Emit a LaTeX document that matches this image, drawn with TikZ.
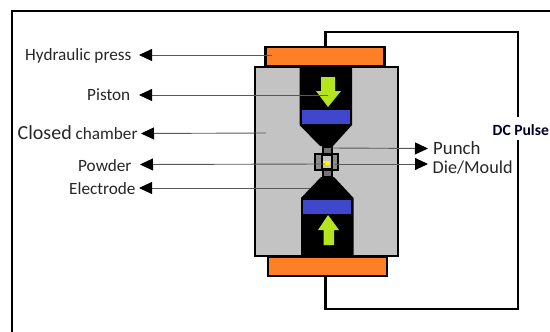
\documentclass[tikz,border=0pt]{standalone}
\usepackage{fontspec}
\setmainfont{Carlito}
\usetikzlibrary{arrows.meta}
\definecolor{orng}{HTML}{FF7F27}
\definecolor{chamb}{HTML}{C3C3C3}
\definecolor{blu}{HTML}{3F48CC}
\definecolor{lime}{HTML}{B5E61D}
\definecolor{txt}{HTML}{262626}
\tikzset{
  x=1pt,y=-1pt,
  part/.style={draw=black,line width=2.4pt,line join=miter},
  frameline/.style={line width=2.4pt,black},
  wire/.style={line width=2.6pt,black},
  leader/.style={draw=black!65,line width=0.9pt,-{Triangle[black,length=13pt,width=12pt]}},
  lab/.style={inner sep=0pt,text=txt,font=\fontsize{17.2}{19}\selectfont,anchor=base west},
  bluebar/.style={fill=blu,draw=none},
  limearrow/.style={fill=lime,draw=none},
}
\begin{document}
\begin{tikzpicture}
\useasboundingbox (0,0) rectangle (550,332);
\begin{scope}
\clip (0,0) rectangle (550,332);
\draw[frameline] (550,11) -- (12,11) -- (12,332);
% wire
\coordinate (wTopA) at (325.5,47);
\coordinate (wTopB) at (325.5,32);
\coordinate (wTopC) at (518,32);
\coordinate (wTopD) at (518,117);
\coordinate (wBotA) at (518,140);
\coordinate (wBotB) at (518,309);
\coordinate (wBotC) at (325.5,309);
\coordinate (wBotD) at (325.5,277);
\draw[wire] (wTopA) -- (wTopB) -- (wTopC) -- (wTopD);
\draw[wire] (wBotA) -- (wBotB) -- (wBotC) -- (wBotD);
% press plates and chamber
\node[part,fill=orng,minimum width=119pt,minimum height=19.5pt,inner sep=0pt] (press) at (325,56.5) {};
\node[part,fill=orng,minimum width=119pt,minimum height=19.5pt,inner sep=0pt] (pressb) at (327.5,266.5) {};
\node[part,fill=chamb,minimum width=143pt,minimum height=189pt,inner sep=0pt] (chamber) at (326.5,161.5) {};
% pistons
\fill[black] (299.5,67) -- (352,67) -- (352,125) -- (333,146) -- (320,146) -- (299.5,125) -- cycle;
\fill[black] (301,256) -- (353.5,256) -- (353.5,198) -- (334,177) -- (321,177) -- (301,198) -- cycle;
\node[bluebar,minimum width=48pt,minimum height=14.5pt,inner sep=0pt] (blueA) at (326,117) {};
\node[bluebar,minimum width=48pt,minimum height=14.5pt,inner sep=0pt] (blueB) at (327,207) {};
\fill[limearrow] (321,77) -- (335,77) -- (335,91) -- (341,91) -- (328,107) -- (316,91) -- (321,91) -- cycle;
\fill[limearrow] (323.5,245) -- (334,245) -- (334,230) -- (339,230) -- (328,215) -- (318,230) -- (323.5,230) -- cycle;
% punches and die
\node[draw=black,line width=2pt,fill=black!55,minimum width=9pt,minimum height=11pt,inner sep=0pt] (punchA) at (327,152) {};
\node[draw=black,line width=2pt,fill=black!55,minimum width=9pt,minimum height=9pt,inner sep=0pt] (punchB) at (327,172) {};
\node[draw=black,line width=1.8pt,fill=black!45,minimum width=23pt,minimum height=16.5pt,inner sep=0pt] (die) at (326.5,162) {};
\draw[black,line width=1.5pt,fill=chamb] (322,155) rectangle (332,169);
\node[fill=yellow,minimum width=7pt,minimum height=4.5pt,inner sep=0pt] (powder) at (326.5,163) {};
% labels
\node[lab] (lHyd) at (25,60) {Hydraulic press};
\node[lab] (lPis) at (87,100.5) {Piston};
\node[lab] (lCha) at (17.5,139) {{\fontsize{20}{22}\selectfont Closed} chamber};
\node[lab] (lPow) at (78,171) {Powder};
\node[lab] (lEle) at (69,194) {Electrode};
\node[lab,font=\fontsize{18.8}{20}\selectfont] (lPun) at (433,154) {Punch};
\node[lab,font=\fontsize{18.2}{20}\selectfont] (lDie) at (432.5,173) {Die/Mould};
\node[inner sep=0pt,anchor=base west,text=black!85!blue,font=\fontsize{15.6}{18}\selectfont\bfseries] (lDC) at (492.5,135.5) {DC Pulse};
% leaders
\coordinate (eHyd) at (272,55);
\coordinate (ePis) at (328,95);
\coordinate (eCha) at (266,133);
\coordinate (ePow) at (325,164);
\coordinate (eEle) at (310,188);
\coordinate (ePun) at (330,148);
\coordinate (eDie) at (335,164);
\coordinate (tHyd) at (139,55);
\coordinate (tPis) at (139,95);
\coordinate (tCha) at (141,133.5);
\coordinate (tPow) at (140,164.5);
\coordinate (tEle) at (139,188);
\coordinate (tPun) at (428,148.5);
\coordinate (tDie) at (428,164);
\draw[leader] (eHyd) -- (tHyd);
\draw[leader] (ePis) -- (tPis);
\draw[leader] (eCha) -- (tCha);
\draw[leader] (ePow) -- (tPow);
\draw[leader] (eEle) -- (tEle);
\draw[leader] (ePun) -- (tPun);
\draw[leader] (eDie) -- (tDie);
\end{scope}
\end{tikzpicture}
\end{document}
